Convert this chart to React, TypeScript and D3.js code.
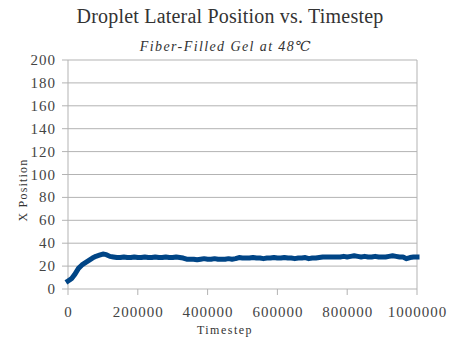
import * as d3 from 'd3';

const timesteps: number[] = d3.range(0, 1000001, 10000);
const xPosition: number[] = [
  7, 9, 13, 18, 21, 23, 25, 27, 28.5, 29.5,
  30.5, 30, 28.5, 28, 27.5, 27.5, 28, 27.5, 27.5, 28,
  27.5, 27.5, 28, 27.5, 27.5, 28, 27.5, 27.5, 28, 27.5,
  27.5, 28, 27.5, 27, 26, 26, 26, 25.5, 26, 26.5,
  26, 26, 26.5, 26, 26, 26, 26.5, 26, 26.5, 27.5,
  27, 27, 27, 27.5, 27, 27, 26.5, 27, 27, 27.5,
  27, 27, 27.5, 27, 27, 26.5, 27, 27, 27.5, 26.5,
  27, 27, 27.5, 28, 28, 28, 28, 28, 28, 28.5,
  28, 28.5, 29, 28.5, 28, 28.5, 28, 28, 28.5, 28,
  28, 28, 28.5, 29, 28.5, 28, 28, 26.5, 27.5, 28,
  28,
];
const yTicks: number[] = d3.range(0, 201, 20);
const xTicks: number[] = [0, 200000, 400000, 600000, 800000, 1000000];

export default function App() {
  const width = 451;
  const height = 341;
  const margin = { top: 60, right: 34, bottom: 52, left: 68 };
  const font = '"Liberation Serif", "DejaVu Serif", serif';

  const x = d3.scaleLinear().domain([0, 1000000]).range([margin.left, width - margin.right]);
  const y = d3.scaleLinear().domain([0, 200]).range([height - margin.bottom, margin.top]);

  const line = d3
    .line<number>()
    .x((_, i) => x(timesteps[i]))
    .y((d) => y(d));

  return (
    <svg
      width={width}
      height={height}
      style={{ position: 'absolute', left: 0, top: 0, background: '#fff' }}
      fontFamily={font}
    >
      <text x={230} y={23} textAnchor="middle" fontSize={20} letterSpacing={0.2} fill="#333">
        Droplet Lateral Position vs. Timestep
      </text>
      <text x={226} y={51} textAnchor="middle" fontSize={14} letterSpacing={1.4} fontStyle="italic" fill="#333">
        Fiber-Filled Gel at 48℃
      </text>

      {yTicks.map((t) => (
        <g key={t}>
          <line x1={x(0) - 6} x2={x(1000000)} y1={y(t)} y2={y(t)} stroke="#b3b3b3" />
          <text x={x(0) - 12} y={y(t) + 5} textAnchor="end" fontSize={15} letterSpacing={1} fill="#444">
            {t}
          </text>
        </g>
      ))}
      <line x1={x(1000000)} x2={x(1000000)} y1={y(200)} y2={y(0)} stroke="#b3b3b3" />
      <line x1={x(0)} x2={x(0)} y1={y(200)} y2={y(0)} stroke="#b3b3b3" />

      {xTicks.map((t) => (
        <g key={t}>
          <line x1={x(t)} x2={x(t)} y1={y(0)} y2={y(0) + 6} stroke="#b3b3b3" />
          <text x={x(t) + 0.5} y={y(0) + 28} textAnchor="middle" fontSize={15} letterSpacing={1} fill="#444">
            {t}
          </text>
        </g>
      ))}

      <path
        d={line(xPosition) ?? ''}
        fill="none"
        stroke="#004586"
        strokeWidth={5}
        strokeLinejoin="round"
        strokeLinecap="square"
      />

      <text x={225} y={334} textAnchor="middle" fontSize={12} letterSpacing={1.5} fill="#333">
        Timestep
      </text>
      <text
        transform={`translate(27,190) rotate(-90)`}
        textAnchor="middle"
        fontSize={12}
        letterSpacing={1.2}
        fill="#333"
      >
        X Position
      </text>
    </svg>
  );
}
